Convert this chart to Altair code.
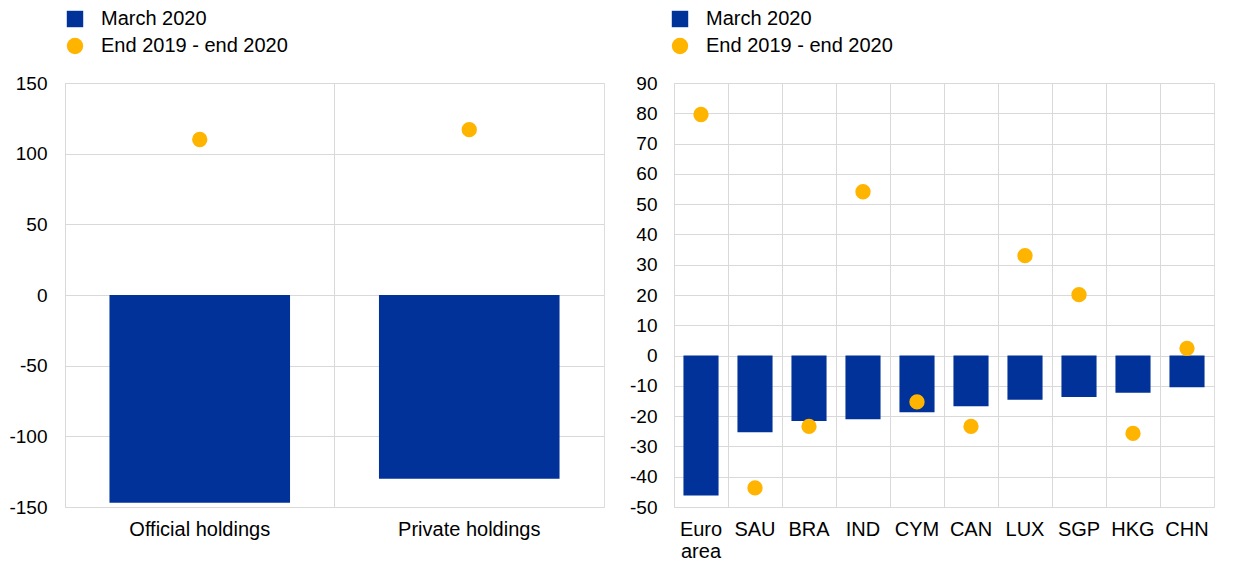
import altair as alt
import pandas as pd

series_names = ["March 2020", "End 2019 - end 2020"]
series_colors = ["#003299", "#FFB400"]

left_categories = ["Official holdings", "Private holdings"]
left_march = [-147.0, -130.0]
left_end = [110.0, 117.0]

right_categories = ["Euro area", "SAU", "BRA", "IND", "CYM", "CAN", "LUX", "SGP", "HKG", "CHN"]
right_march = [-46.2, -25.3, -21.6, -21.0, -18.7, -16.7, -14.6, -13.7, -12.3, -10.5]
right_end = [79.6, -43.7, -23.4, 54.1, -15.3, -23.4, 33.0, 20.1, -25.7, 2.4]

left_ticks = [-150, -100, -50, 0, 50, 100, 150]
right_ticks = list(range(-50, 100, 10))

FONT = "Liberation Sans"
GRID = "#d9d9d9"


def make_df(cats, march, end):
    rows = []
    for c, v in zip(cats, march):
        rows.append({"cat": c, "series": series_names[0], "value": v})
    for c, v in zip(cats, end):
        rows.append({"cat": c, "series": series_names[1], "value": v})
    return pd.DataFrame(rows)


def panel(cats, march, end, domain, ticks, width, height, band, label_pad, legend_x, label_expr=None):
    df = make_df(cats, march, end)
    xaxis_kwargs = dict(title=None, labelAngle=0, grid=True, bandPosition=0, ticks=False,
                        domain=False, labelFontSize=20, labelPadding=12, labelColor="#000000",
                        gridColor=GRID, labelFont=FONT, labelLineHeight=22, labelLimit=400)
    if label_expr:
        xaxis_kwargs["labelExpr"] = label_expr
    x = alt.X("cat:N", sort=cats, scale=alt.Scale(paddingInner=0, paddingOuter=0),
              axis=alt.Axis(**xaxis_kwargs))
    y = alt.Y("value:Q", scale=alt.Scale(domain=domain, nice=False, zero=False),
              axis=alt.Axis(title=None, values=ticks, ticks=False, domain=False, labelFontSize=19,
                            labelPadding=label_pad, labelColor="#000000", gridColor=GRID,
                            labelFont=FONT, labelExpr="datum.value + ''"))
    legend = alt.Legend(title=None, orient="none", legendX=legend_x, legendY=-74,
                        labelFontSize=20, labelFont=FONT, labelColor="#000000",
                        symbolSize=270, symbolStrokeWidth=0, symbolOpacity=1,
                        rowPadding=7, labelOffset=16, labelLimit=400)
    color = alt.Color("series:N", scale=alt.Scale(domain=series_names, range=series_colors), legend=legend)
    shape = alt.Shape("series:N", scale=alt.Scale(domain=series_names, range=["square", "circle"]), legend=legend)
    base = alt.Chart(df).encode(x=x, y=y)
    bars = base.transform_filter(alt.datum.series == series_names[0]).mark_bar(
        width=alt.RelativeBandSize(band)).encode(color=color)
    pts = base.transform_filter(alt.datum.series == series_names[1]).mark_point(
        filled=True, size=235, opacity=1).encode(color=color, shape=shape)
    return alt.layer(bars, pts).properties(width=width, height=height)


left = panel(left_categories, left_march, left_end, [-150, 150], left_ticks, 539, 424, 0.67, 18, 0)
right = panel(right_categories, right_march, right_end, [-50, 90], right_ticks, 540, 424, 0.65, 17, -4,
              label_expr="split(datum.label, ' ')")

chart = alt.hconcat(left, right, spacing=24).resolve_scale(
    color="independent", shape="independent", x="independent", y="independent"
).properties(
    padding={"left": 0, "top": 0, "right": 5, "bottom": 5}
).configure_view(stroke=GRID).configure(font=FONT, background="#ffffff")

chart.save("out.html", embed_options={"renderer": "svg", "actions": False})
